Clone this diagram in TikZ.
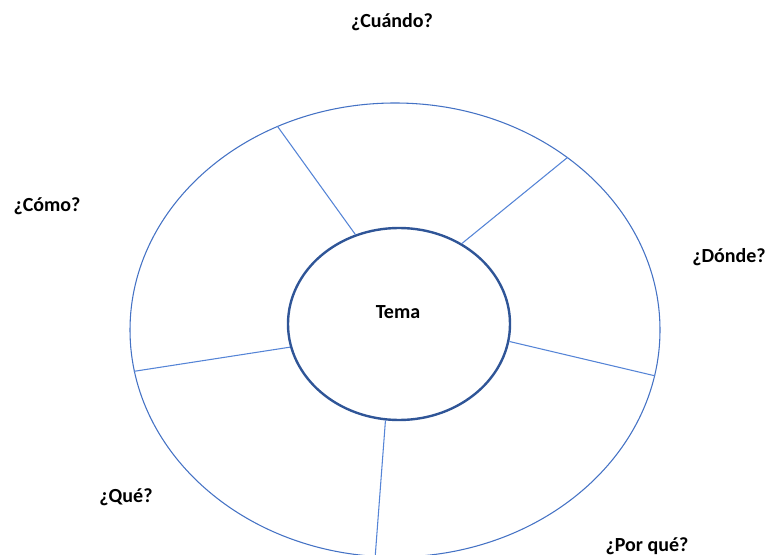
\documentclass[tikz,border=0pt]{standalone}
\usepackage{fontspec}
\setmainfont{Carlito}
\usetikzlibrary{shapes.geometric}
\definecolor{ringblue}{HTML}{4472C4}
\definecolor{coreblue}{HTML}{2F5597}
\definecolor{spokeblue}{HTML}{5584D6}

\begin{document}
\begin{tikzpicture}[x=0.75pt,y=-0.75pt,font=\bfseries\fontsize{15}{18}\selectfont,
  ring/.style={ellipse,draw=ringblue,line width=0.8pt,inner sep=0pt},
  core/.style={ellipse,draw=coreblue,line width=1.8pt,inner sep=0pt},
  spoke/.style={draw=spokeblue,line width=0.8pt}]
  \useasboundingbox (0,0) rectangle (770,555);
  % rings
  \node[ring,minimum width=397.5pt,minimum height=340.5pt] (outer) at (395,330) {};
  \node[core,minimum width=166.5pt,minimum height=144pt] (inner) at (399,324) {};
  \node (tema) at (398,312) {Tema};
  % spokes
  \draw[spoke] (inner.116) -- (outer.120);
  \draw[spoke] (inner.52) -- (outer.45.5);
  \draw[spoke] (inner.-9.5) -- (outer.-10);
  \draw[spoke] (inner.262) -- (outer.265);
  \draw[spoke] (inner.192.5) -- (outer.189.2);
  % questions
  \node (cuando) at (392,22) {¿Cuándo?};
  \node (como) at (47,206) {¿Cómo?};
  \node (donde) at (729,257) {¿Dónde?};
  \node (que) at (126,497) {¿Qué?};
  \node (porque) at (647,546) {¿Por qué?};
\end{tikzpicture}
\end{document}
